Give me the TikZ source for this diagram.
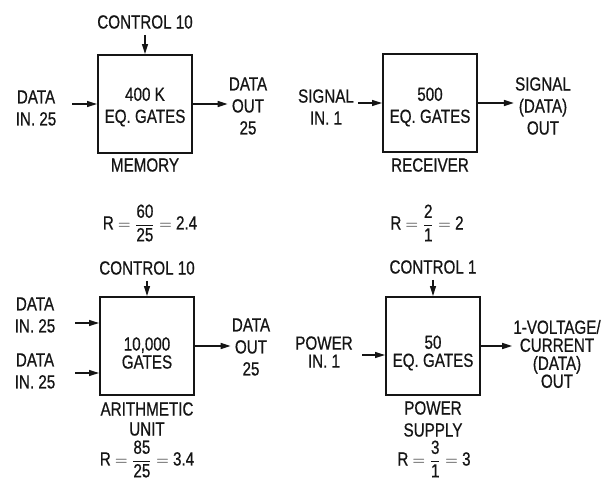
\documentclass[tikz,border=0pt]{standalone}
\usepackage{amsmath}
\usepackage{fontspec}
\setmainfont{Liberation Sans}[FakeStretch=0.8,FakeBold=0.6]
\usetikzlibrary{arrows.meta}
\definecolor{Paper}{HTML}{FFFFFF}
\definecolor{Ink}{HTML}{151515}
\newcommand\Rfrac[3]{R $=\dfrac{\text{#1}}{\text{#2}}=$ #3}

\begin{document}
\begin{tikzpicture}[x=1pt,y=-1pt,>={Triangle[length=10pt,width=6pt]},
  every node/.style={font=\fontsize{19}{22}\selectfont,text=Ink,align=center,inner sep=1pt},
  tight/.style={font=\fontsize{19}{18}\selectfont},
  unit/.style={draw=Ink,line width=2pt,minimum width=94pt,minimum height=98pt},
  flow/.style={->,draw=Ink,line width=1.5pt}]
\fill[Paper] (0,0) rectangle (606,482); \useasboundingbox (0,0) rectangle (606,482);
\node[unit] (mem) at (145,104){}; \node (memTxt) at (145,107){400 K\\EQ. GATES};
\node (memCtl) at (145,22){CONTROL 10}; \draw[flow,shorten <=5pt] (memCtl) -- (mem);
\node (memIn) at (36,108){DATA\\IN. 25}; \coordinate (memTail) at (72,104); \draw[flow] (memTail) -- (memTail -| mem.west);
\node (memOut) at (248,106){DATA\\OUT\\25}; \draw[flow] (mem.east) -- (mem.east -| memOut.west);
\node (memName) at (145,165){MEMORY};
\node[unit] (rcv) at (430,103){}; \node (rcvTxt) at (430,107){500\\EQ. GATES};
\node (rcvIn) at (326,107){SIGNAL\\IN. 1}; \coordinate (rcvTail) at (358,103); \draw[flow] (rcvTail) -- (rcvTail -| rcv.west);
\node (rcvOut) at (543,106){SIGNAL\\(DATA)\\OUT}; \draw[flow] (rcv.east) -- (rcv.east -| rcvOut.west);
\node (rcvName) at (430,165){RECEIVER};
\node (rMem) at (150,223){\Rfrac{60}{25}{2.4}}; \node (rRcv) at (427,223){\Rfrac{2}{1}{2}};
\node[unit] (alu) at (147,346){}; \node[tight] (aluTxt) at (147,353){10,000\\GATES};
\node (aluCtl) at (147,268){CONTROL 10}; \draw[flow,shorten <=5pt] (aluCtl) -- (alu);
\node (aluInA) at (35,315){DATA\\IN. 25}; \coordinate (aluTailA) at (75,323); \draw[flow] (aluTailA) -- (aluTailA -| alu.west);
\node (aluInB) at (35,371){DATA\\IN. 25}; \coordinate (aluTailB) at (75,373); \draw[flow] (aluTailB) -- (aluTailB -| alu.west);
\node (aluOut) at (251,347){DATA\\OUT\\25}; \draw[flow] (alu.east) -- (alu.east -| aluOut.west);
\node[font=\fontsize{19}{20}\selectfont] (aluName) at (147,419){ARITHMETIC\\UNIT}; \node (rAlu) at (147,459){\Rfrac{85}{25}{3.4}};
\node[unit] (pwr) at (433,346){}; \node[tight] (pwrTxt) at (433,353){50\\EQ. GATES};
\node (pwrCtl) at (433,267){CONTROL 1}; \draw[flow,shorten <=5pt] (pwrCtl) -- (pwr);
\node[tight] (pwrIn) at (324,352){POWER\\IN. 1}; \coordinate (pwrTail) at (362,355); \draw[flow] (pwrTail) -- (pwrTail -| pwr.west);
\node[tight] (pwrOut) at (557,354){1-VOLTAGE/\\CURRENT\\(DATA)\\OUT}; \draw[flow] (pwr.east) -- (pwr.east -| pwrOut.west);
\node (pwrName) at (433,419){POWER\\SUPPLY}; \node (rPwr) at (434,459){\Rfrac{3}{1}{3}};
\end{tikzpicture}
\end{document}
